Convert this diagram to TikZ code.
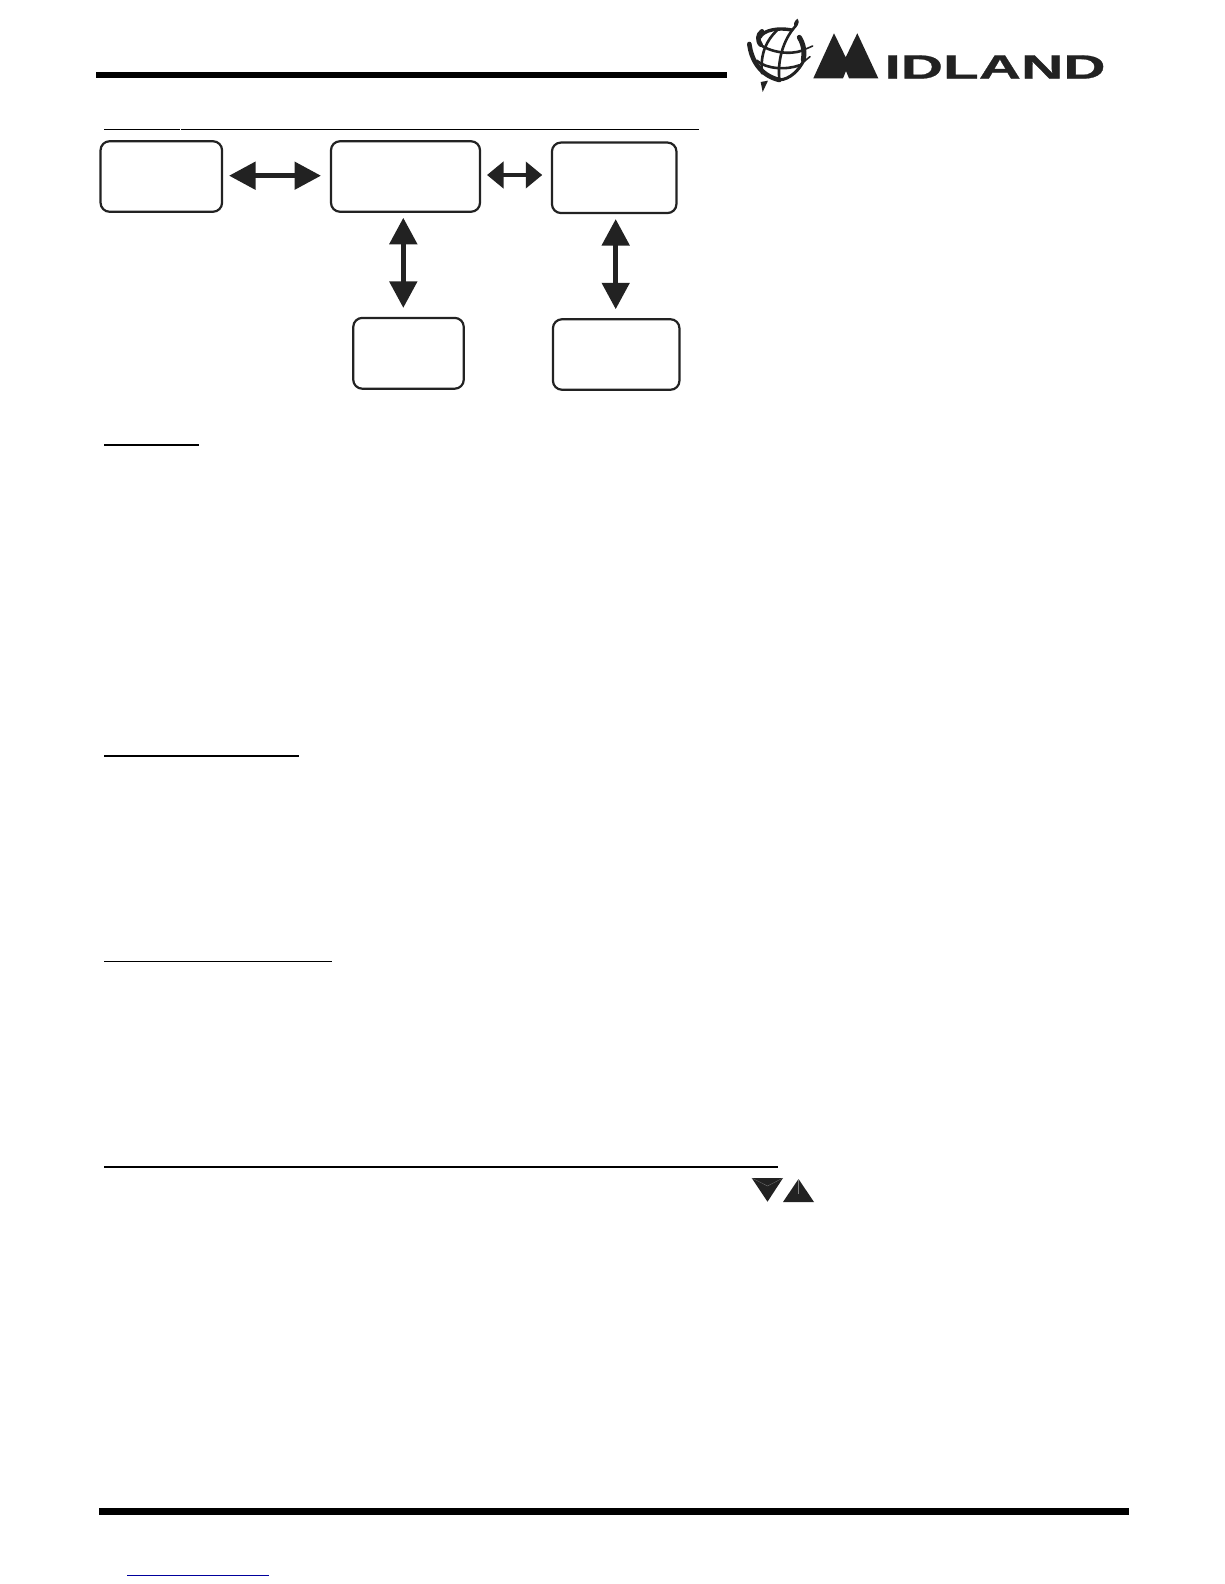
\documentclass[tikz,border=0pt]{standalone}
\usepackage{fontspec}
\usepackage{graphicx}
\setmainfont{Liberation Sans}
\newfontfamily\brandfont[UprightFont=* Bold,FakeBold=0.6]{Liberation Sans}
\usetikzlibrary{arrows.meta}
\definecolor{ink}{HTML}{222222}
\definecolor{linkblue}{HTML}{00009C}
\tikzset{
  boxnode/.style={draw=ink,line width=2.2pt,rounded corners=9pt,inner sep=0pt,outer sep=0pt,fill=white},
  bigarrow/.style={draw=ink,line width=5pt,{Triangle[length=26.5pt,width=27pt]}-{Triangle[length=26.5pt,width=27pt]}},
  smallarrow/.style={draw=ink,line width=4.2pt,{Triangle[length=16.5pt,width=26pt]}-{Triangle[length=16.5pt,width=26pt]}},
  rulebar/.style={fill=black,draw=none},
  underrule/.style={draw=black,line cap=butt},
  globeline/.style={draw=ink,line cap=round,line join=round}
}
\begin{document}
\begin{tikzpicture}[x=1pt,y=-1pt]
\useasboundingbox (0,0) rectangle (1224,1584);
\fill[white] (0,0) rectangle (1224,1584);

% heavy rules
\fill[rulebar] (96,72) rectangle (727,78);
\fill[rulebar] (99,1508) rectangle (1129,1515);

% heading underlines
\draw[underrule,line width=1.3pt] (104,129.5) -- (179.5,129.5);
\draw[underrule,line width=1.3pt] (181,129.5) -- (699,129.5);
\draw[underrule,line width=2pt] (104,444.7) -- (199,444.7);
\draw[underrule,line width=2pt] (104,755.7) -- (299,755.7);
\draw[underrule,line width=1.5pt] (104,961.3) -- (332,961.3);
\draw[underrule,line width=1.6pt] (104,1167) -- (778,1167);
\draw[draw=linkblue,line width=1pt] (127,1575.3) -- (269,1575.3);

% flow boxes
\node[boxnode,minimum width=121.5pt,minimum height=70.5pt] (b1) at (161.3,176.5) {};
\node[boxnode,minimum width=149pt,minimum height=70.5pt] (b2) at (405.5,176.5) {};
\node[boxnode,minimum width=124.5pt,minimum height=70.5pt] (b3) at (614.2,177.8) {};
\node[boxnode,minimum width=110.5pt,minimum height=70.8pt] (b4) at (408.5,353.3) {};
\node[boxnode,minimum width=126.5pt,minimum height=70.5pt] (b5) at (616.2,354.5) {};

% connectors
\draw[bigarrow] ([xshift=7pt,yshift=0.8pt]b1.east) -- ([xshift=-10pt,yshift=0.8pt]b2.west);
\draw[smallarrow] ([xshift=7pt,yshift=1.5pt]b2.east) -- ([xshift=-9.7pt,yshift=2.8pt]b3.west);
\draw[bigarrow] ([xshift=-2.2pt,yshift=-6pt]b2.south) -- ([xshift=-5.2pt,yshift=10pt]b4.north);
\draw[bigarrow] ([xshift=1.5pt,yshift=-6pt]b3.south) -- ([xshift=-0.5pt,yshift=10pt]b5.north);

% up and down keys
\fill[ink] (751.7,1178) -- (783,1178) -- (767.5,1201.7) -- cycle;
\fill[ink] (783,1202) -- (814,1202) -- (798.5,1179) -- cycle;
\draw[gray,line width=0.25pt] (798.5,1179) -- (798.5,1194);
\draw[gray,line width=0.25pt] (751.7,1178) -- (767.5,1186) -- (783,1178);

% logo: M mark
\fill[ink] (813.3,78.3) -- (834,33.3) -- (845.7,57.3) -- (857.3,33.3) -- (878.3,78.3)
  -- (849,78.3) -- (846,71) -- (843,78.3) -- cycle;
% logo: remaining letters
\node[anchor=south west,inner sep=0pt,outer sep=0pt,text=ink] (brand) at (884.5,78.6)
  {\resizebox{221pt}{23.2pt}{\brandfont IDLAND}};

% logo: globe (drawn in 3x crop coordinates)
\begin{scope}[shift={(740,10)},x=0.3333pt,y=-0.3333pt]
  \fill[ink] (172,26) .. controls (178,32) and (178,42) .. (167,54) .. controls (158,44) and (162,34) .. (172,26) -- cycle;
  \fill[ink] (84,212) -- (68,246) -- (62,216) -- cycle;
  % outer rim
  \draw[globeline,line width=3.4pt] (155,60) .. controls (115,52) and (70,60) .. (60,82);
  \draw[globeline,line width=4.6pt] (66,64) .. controls (52,74) and (52,92) .. (62,104);
  \draw[globeline,line width=4.6pt] (28,102) .. controls (34,150) and (60,196) .. (118,210);
  \draw[globeline,line width=3pt] (118,210) .. controls (150,208) and (178,180) .. (192,150);
  \draw[globeline,line width=5pt] (178,82) .. controls (192,104) and (194,130) .. (190,150);
  % parallels
  \draw[globeline,line width=2.6pt] (55,100) .. controls (90,128) and (150,135) .. (186,122);
  \draw[globeline,line width=2.6pt] (50,152) .. controls (80,178) and (140,180) .. (178,166);
  \draw[globeline,line width=1.6pt] (186,122) -- (218,108);
  \draw[globeline,line width=1.6pt] (178,166) -- (210,140);
  % meridians
  \draw[globeline,line width=2.6pt] (112,60) .. controls (80,90) and (60,130) .. (66,190);
  \draw[globeline,line width=2.6pt] (165,50) .. controls (130,90) and (112,150) .. (118,208);
\end{scope}
\end{tikzpicture}
\end{document}
